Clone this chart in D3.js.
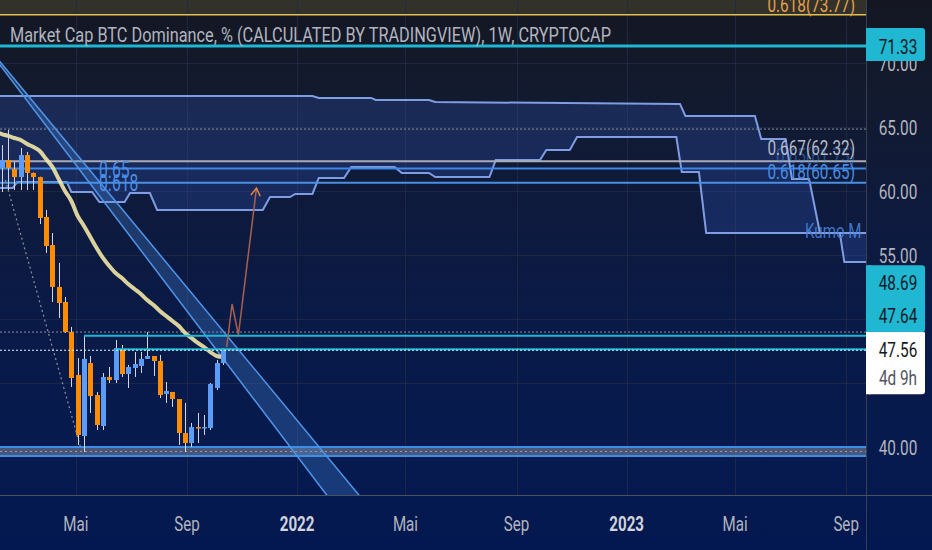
<!DOCTYPE html>
<html><head><meta charset="utf-8">
<script src="https://cdn.jsdelivr.net/npm/d3@7"></script>
<style>html,body{margin:0;padding:0;background:#0b1633;overflow:hidden}</style>
</head><body><svg id="c" width="932" height="550"></svg>
<script>
// ---------------- DATA ----------------
const candleDates = ["2021-02-08","2021-02-15","2021-02-22","2021-03-01","2021-03-08","2021-03-15","2021-03-22","2021-03-29","2021-04-05","2021-04-12","2021-04-19","2021-04-26","2021-05-03","2021-05-10","2021-05-17","2021-05-24","2021-05-31","2021-06-07","2021-06-14","2021-06-21","2021-06-28","2021-07-05","2021-07-12","2021-07-19","2021-07-26","2021-08-02","2021-08-09","2021-08-16","2021-08-23","2021-08-30","2021-09-06","2021-09-13","2021-09-20","2021-09-27","2021-10-04","2021-10-11"];
const opens  = [61.80,62.42,61.72,61.09,62.81,61.41,61.09,57.97,55.78,52.50,51.33,48.98,45.63,40.86,46.56,44.06,41.64,45.47,45.23,47.66,45.70,46.17,46.33,46.88,47.11,46.72,44.14,44.30,43.75,41.09,40.31,41.56,41.48,41.48,44.61,46.56];
const highs  = [63.59,64.77,62.27,63.36,63.05,61.45,61.12,58.52,56.72,54.38,51.72,49.38,46.95,48.75,47.11,44.30,45.78,46.25,48.36,47.97,46.41,47.42,47.42,48.98,47.11,47.19,45.08,44.30,43.75,43.44,41.88,42.66,42.50,45.00,46.80,47.73];
const lows   = [59.92,60.08,60.08,60.08,60.08,60.08,57.42,55.16,51.33,50.08,48.91,44.69,40.16,39.61,42.66,41.33,41.33,45.00,45.00,45.47,44.61,45.47,45.78,46.88,45.55,43.83,43.44,43.13,40.16,39.61,40.00,40.31,40.94,41.33,44.45,46.41];
const closes = [62.42,61.80,61.09,62.81,61.41,61.09,57.89,55.70,52.50,51.25,48.98,45.39,40.94,46.88,43.98,41.72,45.47,45.23,47.73,45.70,46.25,46.48,46.88,47.11,46.72,44.06,44.38,43.75,41.09,40.31,41.56,41.48,41.56,44.92,46.56,47.56];

const maDates  = ["2021-02-01"].concat(candleDates);
const maValues = [64.61,64.45,64.30,64.14,63.98,63.67,63.44,63.13,62.50,61.88,60.94,60.00,59.22,58.05,57.27,56.41,55.55,54.77,54.14,53.59,53.20,52.73,52.34,51.95,51.48,51.09,50.63,50.23,49.84,49.45,48.91,48.52,48.13,47.81,47.42,47.11,47.03];

const cloudUpperDates  = ["2021-01-30","2022-01-18","2022-01-25","2022-03-24","2022-03-29","2022-05-27","2022-06-03","2023-03-01","2023-03-07","2023-05-23","2023-05-30","2023-06-26","2023-07-03","2023-07-22","2023-08-03","2023-09-30"];
const cloudUpperValues = [67.42,67.42,67.27,67.27,67.11,67.11,66.95,66.80,65.86,65.86,64.06,64.06,60.94,60.94,56.72,56.72];
const cloudLowerDates  = ["2021-01-30","2021-02-20","2021-02-25","2021-04-21","2021-04-26","2021-05-19","2021-05-27","2021-06-24","2021-06-30","2021-07-22","2021-07-30","2021-11-24","2021-12-02","2021-12-24","2021-12-30","2022-01-18","2022-01-25","2022-02-22","2022-03-02","2022-04-19","2022-04-27","2022-05-27","2022-06-03","2022-08-02","2022-08-09","2022-09-27","2022-10-04","2022-10-30","2022-11-07","2023-02-25","2023-03-03","2023-03-22","2023-03-30","2023-08-25","2023-08-30","2023-09-30"];
const cloudLowerValues = [60.23,60.23,60.70,60.70,59.92,59.92,59.14,59.14,59.84,59.84,58.52,58.52,59.53,59.53,59.77,59.77,61.02,61.02,61.88,61.88,61.41,61.41,61.09,61.09,62.42,62.42,63.20,63.20,64.22,64.22,61.48,61.48,56.72,56.72,54.45,54.45];

const channelADates = ["2021-01-16","2022-02-07"], channelAValues = [71.80,35.86];
const channelBDates = ["2021-01-17","2022-03-15"], channelBValues = [71.80,35.86];

const arrowDates  = ["2021-10-15","2021-10-21","2021-10-28","2021-11-17"];
const arrowValues = [47.81,51.17,48.75,60.23];

const diagDates  = ["2021-02-12","2021-05-07"];
const diagValues = [60.86,39.77];

const fibLevels = [62.32,61.75,60.65];
const fibLabels = ["0.667(62.32)","0.65(61.75)","0.618(60.65)"];
const fibShortLabels = ["0.65","0.618"];
const topFib = 73.77, topFibLabel = "0.618(73.77)";
const priceLine = 71.33;
const rayLevels = [48.69,47.64], rayStarts = ["2021-05-10","2021-06-14"];
const dottedLevels = [64.84,48.98];
const lastPrice = 47.56, countdown = "4d 9h";
const supportTop = 40.00, supportMid = 39.65, supportBottom = 39.30;

const yTicks = [70,65,60,55,50,45,40];
const yTickLabels = ["70.00","65.00","60.00","55.00","40.00"];
const yTickShown = [70,65,60,55,40];
const timeTicks = ["2021-05-01","2021-09-01","2022-01-01","2022-05-01","2022-09-01","2023-01-01","2023-05-01","2023-09-01"];
const timeTickLabels = ["Mai","Sep","2022","Mai","Sep","2023","Mai","Sep"];
const title = "Market Cap BTC Dominance, % (CALCULATED BY TRADINGVIEW), 1W, CRYPTOCAP";

// ---------------- SETUP ----------------
const W = 932, H = 550, PW = 866, PH = 495;
const P = d3.timeParse("%Y-%m-%d");
const x = d3.scaleTime().domain([P("2021-02-06"), P("2023-09-23")]).range([0, PW]);
const y = d3.scaleLinear().domain([70, 40]).range([63, 447]);
const FONT = 'Roboto, "Noto Sans", "Liberation Sans", sans-serif';

const svg = d3.select("#c");
const defs = svg.append("defs");
const gr = defs.append("linearGradient").attr("id","bg").attr("x1",0).attr("y1",0).attr("x2",0).attr("y2",1);
[[0,"#141722"],[0.18,"#121a2f"],[0.38,"#0e1a3d"],[0.58,"#0a1a47"],[0.8,"#061a4e"],[1,"#031850"]]
  .forEach(s => gr.append("stop").attr("offset",s[0]).attr("stop-color",s[1]));
defs.append("clipPath").attr("id","plotclip").append("rect").attr("x",0).attr("y",0).attr("width",PW).attr("height",PH);

svg.append("rect").attr("width",W).attr("height",H).attr("fill","url(#bg)");

const plot = svg.append("g").attr("clip-path","url(#plotclip)");

function T(g, px, py, s, o = {}) {
  return g.append("text")
    .attr("transform", `translate(${px},${py}) scale(${o.sx ?? 0.73},1)`)
    .attr("text-anchor", o.anchor || "start")
    .attr("font-family", FONT)
    .attr("font-size", o.size || 21)
    .attr("font-weight", o.weight || 400)
    .attr("fill", o.fill || "#b2b5be")
    .attr("opacity", o.opacity ?? 1)
    .text(s);
}
function hline(v, o = {}) {
  const x0 = o.from ? x(P(o.from)) : 0;
  return plot.append("line").attr("x1", x0).attr("x2", PW)
    .attr("y1", y(v)).attr("y2", y(v))
    .attr("stroke", o.color).attr("stroke-width", o.width || 1)
    .attr("stroke-dasharray", o.dash || null).attr("opacity", o.opacity ?? 1);
}

// top fib fill zone
plot.append("rect").attr("x",0).attr("y",0).attr("width",PW).attr("height",y(topFib)).attr("fill","#32322a");

// grid
plot.selectAll("line.hg").data(yTicks).join("line").attr("class","hg")
  .attr("x1",0).attr("x2",PW).attr("y1",d=>Math.round(y(d))+0.5).attr("y2",d=>Math.round(y(d))+0.5)
  .attr("stroke","#222a45").attr("stroke-width",1).attr("opacity",0.8);
plot.selectAll("line.vg").data(timeTicks).join("line").attr("class","vg")
  .attr("x1",d=>Math.round(x(P(d)))+0.5).attr("x2",d=>Math.round(x(P(d)))+0.5).attr("y1",0).attr("y2",PH)
  .attr("stroke","#222a45").attr("stroke-width",1).attr("opacity",0.8);

// top fib line
hline(topFib, {color:"#e3c04e", width:1.5});

// Ichimoku cloud
const up = cloudUpperDates.map((d,i)=>[x(P(d)), y(cloudUpperValues[i])]);
const lo = cloudLowerDates.map((d,i)=>[x(P(d)), y(cloudLowerValues[i])]);
plot.append("path").attr("d", d3.line()(up.concat(lo.slice().reverse())) + "Z")
  .attr("fill","rgba(60,100,220,0.22)");
[up, lo].forEach(pts => plot.append("path").attr("d", d3.line()(pts))
  .attr("fill","none").attr("stroke","#7f9de2").attr("stroke-width",2));

// dotted levels
dottedLevels.forEach(v => hline(v, {color:"#8a8e9c", width:1, dash:"2,2"}));

// fib lines
hline(fibLevels[0], {color:"#a9acb6", width:2});
hline(fibLevels[1], {color:"#3f86e6", width:2});
hline(fibLevels[2], {color:"#4a90e2", width:2});

// support band at 40
plot.append("rect").attr("x",0).attr("width",PW).attr("y",y(supportTop)).attr("height",y(supportBottom)-y(supportTop))
  .attr("fill","rgba(130,136,155,0.55)");
hline(supportTop, {color:"#3a8ee8", width:2});
hline(supportBottom, {color:"#3a8ee8", width:2});
hline(supportMid, {color:"#c9ccd6", width:1, dash:"2,3", opacity:0.6});

// descending channel
const cA = channelADates.map((d,i)=>[x(P(d)), y(channelAValues[i])]);
const cB = channelBDates.map((d,i)=>[x(P(d)), y(channelBValues[i])]);
plot.append("path").attr("d", d3.line()(cA.concat(cB.slice().reverse())) + "Z").attr("fill","rgba(74,144,226,0.28)");
[cA, cB].forEach(pts => plot.append("path").attr("d", d3.line()(pts)).attr("fill","none").attr("stroke","#4f95ea").attr("stroke-width",1.5));

// moving average
plot.append("path")
  .attr("d", d3.line().curve(d3.curveMonotoneX)(maDates.map((d,i)=>[x(P(d)), y(maValues[i])])))
  .attr("fill","none").attr("stroke","rgba(246,236,170,0.88)").attr("stroke-width",4).attr("stroke-linecap","round");

// dotted diagonal
plot.append("path").attr("d", d3.line()(diagDates.map((d,i)=>[x(P(d)), y(diagValues[i])])))
  .attr("fill","none").attr("stroke","#8c90a0").attr("stroke-width",1.2).attr("stroke-dasharray","2,3");

// candles
const candles = candleDates.map((d,i)=>({date:P(d), o:opens[i], h:highs[i], l:lows[i], c:closes[i]}));
plot.selectAll("line.wick").data(candles).join("line").attr("class","wick")
  .attr("x1",d=>Math.round(x(d.date))+0.5).attr("x2",d=>Math.round(x(d.date))+0.5)
  .attr("y1",d=>y(d.h)).attr("y2",d=>y(d.l)).attr("stroke","#d4d6dc").attr("stroke-width",1);
plot.selectAll("rect.body").data(candles).join("rect").attr("class","body")
  .attr("x",d=>Math.round(x(d.date))-2).attr("width",5)
  .attr("y",d=>y(Math.max(d.o,d.c))).attr("height",d=>Math.max(1.5, Math.abs(y(d.o)-y(d.c))))
  .attr("fill",d=>d.c>=d.o ? "#5b9cf6" : "#ff8c00");

// price line + rays
hline(priceLine, {color:"#1fb7d2", width:3});
rayLevels.forEach((v,i)=>hline(v, {color:"#1fb7d2", width:2, from:rayStarts[i]}));
hline(lastPrice, {color:"#e8f6fa", width:1.2, dash:"2,2"});

// projected arrow path
const ap = arrowDates.map((d,i)=>[x(P(d)), y(arrowValues[i])]);
plot.append("path").attr("d", d3.line()(ap)).attr("fill","none").attr("stroke","#a8604e").attr("stroke-width",1.5);
{
  const [x1,y1] = ap[ap.length-2], [x2,y2] = ap[ap.length-1];
  const a = Math.atan2(y2-y1, x2-x1), L = 9;
  const p1 = [x2 - L*Math.cos(a-0.55), y2 - L*Math.sin(a-0.55)];
  const p2 = [x2 - L*Math.cos(a+0.55), y2 - L*Math.sin(a+0.55)];
  plot.append("path").attr("d", d3.line()([p1,[x2,y2],p2])).attr("fill","none").attr("stroke","#e8893a").attr("stroke-width",1.5);
}

// texts in plot
T(plot, 99, y(fibLevels[1]) + 9, fibShortLabels[0], {size:23, sx:0.68, fill:"#4a8fe6"});
T(plot, 99, y(fibLevels[2]) + 8, fibShortLabels[1], {size:23, sx:0.68, fill:"#4a8fe6"});
T(plot, 855, y(fibLevels[1]) - 6, fibLabels[1], {anchor:"end", fill:"#4a8fe6", opacity:0.45});
T(plot, 855, y(fibLevels[0]) - 6, fibLabels[0], {anchor:"end", fill:"#b8bbc4"});
T(plot, 855, y(fibLevels[2]) - 4, fibLabels[2], {anchor:"end", fill:"#4a8fe6"});
T(plot, 855, y(topFib) - 3, topFibLabel, {anchor:"end", fill:"#e6a04a"});
T(plot, 805, y(56.72) + 5, "Kumo M", {fill:"#4a86dc", opacity:0.85, sx:0.72});

// title
svg.append("text").attr("x",10).attr("y",42).attr("font-family",FONT).attr("font-size",20)
  .attr("fill","#b2b5be").attr("textLength",601).attr("lengthAdjust","spacingAndGlyphs").text(title);

// axis borders
svg.append("line").attr("x1",PW+0.5).attr("x2",PW+0.5).attr("y1",0).attr("y2",H).attr("stroke","#3a3f50");
svg.append("line").attr("x1",0).attr("x2",W).attr("y1",PH+0.5).attr("y2",PH+0.5).attr("stroke","#4b4f5e");

// y axis labels
const yAx = svg.append("g");
yTickShown.forEach((v,i)=>T(yAx, 898, y(v)+7.5, yTickLabels[i], {anchor:"middle", fill:"#b2b5be"}));

// time axis labels
const xAx = svg.append("g");
timeTicks.forEach((d,i)=>{
  const bold = /^\d{4}$/.test(timeTickLabels[i]);
  T(xAx, x(P(d)), 531, timeTickLabels[i], {anchor:"middle", fill: bold ? "#d1d4dc" : "#b2b5be", weight: bold ? 700 : 400, sx:0.72});
});

// price boxes
const bx = 866, bw = 59;
yAx.append("rect").attr("x",bx).attr("y",y(priceLine)-18).attr("width",bw).attr("height",33).attr("rx",3).attr("fill","#1fb7d2");
yAx.append("rect").attr("x",bx).attr("y",y(priceLine)-18).attr("width",5).attr("height",33).attr("fill","#1fb7d2");
T(yAx, 898, y(priceLine)+8, priceLine.toFixed(2), {anchor:"middle", fill:"#131722"});

const wTop = y(lastPrice) - 18;
yAx.append("rect").attr("x",bx).attr("y",wTop-67).attr("width",bw).attr("height",67).attr("rx",3).attr("fill","#1fb7d2");
yAx.append("rect").attr("x",bx).attr("y",wTop-67).attr("width",5).attr("height",67).attr("fill","#1fb7d2");
yAx.append("rect").attr("x",bx).attr("y",wTop).attr("width",bw).attr("height",62).attr("rx",3).attr("fill","#ffffff");
yAx.append("rect").attr("x",bx).attr("y",wTop).attr("width",bw).attr("height",6).attr("fill","#ffffff");
yAx.append("rect").attr("x",bx).attr("y",wTop).attr("width",5).attr("height",62).attr("fill","#ffffff");
T(yAx, 898, wTop-42, rayLevels[0].toFixed(2), {anchor:"middle", fill:"#131722"});
T(yAx, 898, wTop-9, rayLevels[1].toFixed(2), {anchor:"middle", fill:"#131722"});
T(yAx, 898, wTop+25, lastPrice.toFixed(2), {anchor:"middle", fill:"#131722"});
T(yAx, 898, wTop+53, countdown, {anchor:"middle", fill:"#50535e"});
</script>
</body></html>
